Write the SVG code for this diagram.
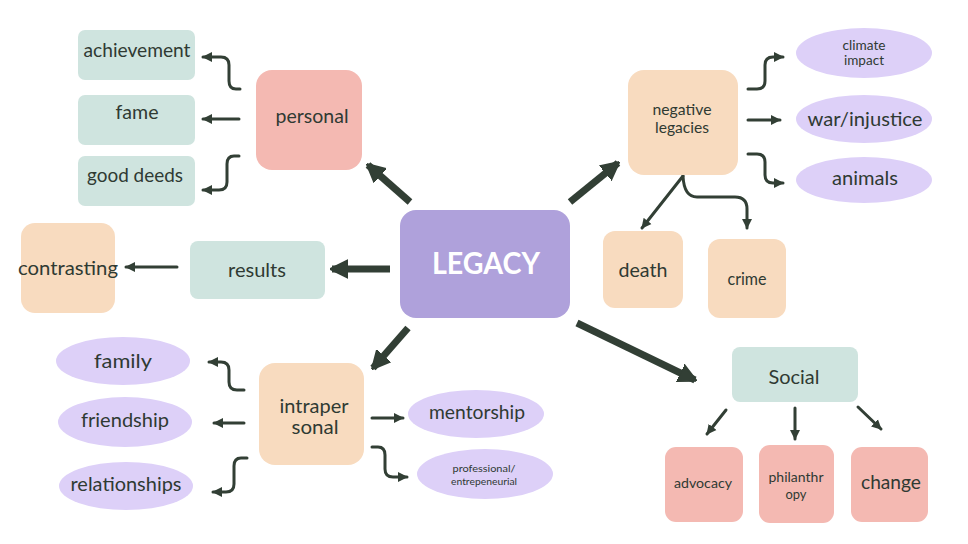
<svg xmlns="http://www.w3.org/2000/svg" width="968" height="544" viewBox="0 0 968 544">
<style>
.t{font-family:"Lato","Open Sans","Liberation Sans",sans-serif;fill:#2f3a33;text-anchor:middle}
.teal{fill:#cfe4df}.peach{fill:#f8dbbf}.pink{fill:#f4b9b2}.lav{fill:#ddd0f8}
.c{fill:none;stroke:#323f35;stroke-width:3;stroke-linecap:round;stroke-linejoin:round;marker-end:url(#s)}
.b{fill:none;stroke:#323f35;stroke-width:7;marker-end:url(#bg)}
</style>
<defs>
<marker id="s" viewBox="0 0 10 10" refX="9" refY="5" markerWidth="10" markerHeight="12" markerUnits="userSpaceOnUse" orient="auto"><path d="M0,0 L10,5 L0,10 z" fill="#323f35"/></marker>
<marker id="bg" viewBox="0 0 10 10" refX="9" refY="5" markerWidth="18" markerHeight="22" markerUnits="userSpaceOnUse" orient="auto"><path d="M0,0 L10,5 L0,10 z" fill="#323f35" stroke="#323f35" stroke-linejoin="round"/></marker>
</defs>
<rect width="968" height="544" fill="#fff"/>
<g id="connectors">
<line class="b" x1="410" y1="202" x2="368" y2="165"/>
<line class="b" x1="570" y1="202" x2="618" y2="163"/>
<line class="b" x1="390" y1="269" x2="332" y2="269"/>
<line class="b" x1="408" y1="328" x2="373" y2="368"/>
<line class="b" x1="577" y1="323" x2="695" y2="380"/>
<path class="c" d="M240,89 H236 Q229,89 229,81 V65 Q229,57 221,57 H203"/>
<path class="c" d="M239,119 H203"/>
<path class="c" d="M239,156 H234 Q227,156 227,164 V182 Q227,190 219,190 H203"/>
<line class="c" x1="177" y1="267" x2="126" y2="267"/>
<path class="c" d="M244,390 H237 Q229,390 229,382 V370 Q229,362 221,362 H209"/>
<path class="c" d="M244,423 H214"/>
<path class="c" d="M247,458 H241 Q234,458 234,466 V484 Q234,492 226,492 H213"/>
<path class="c" d="M372,418 H403"/>
<path class="c" d="M372,447 H378 Q385,447 385,455 V469 Q385,477 393,477 H407"/>
<path class="c" d="M748,89 H757 Q765,89 765,81 V65 Q765,57 773,57 H783"/>
<path class="c" d="M748,120 H780"/>
<path class="c" d="M748,154 H757 Q765,154 765,162 V175 Q765,183 773,183 H783"/>
<path class="c" d="M683,176 L642,228"/>
<path class="c" d="M683,176 Q684,197 697,197 H735 Q747,197 747,209 V228"/>
<path class="c" d="M726,410 L707,434"/>
<path class="c" d="M795,408 V439"/>
<path class="c" d="M858,407 L881,429"/>
</g>
<g id="legacy"><rect x="400" y="210" width="170" height="108" rx="16" fill="#afa1db"/><text class="t" x="486" y="274" font-size="31" font-weight="bold" textLength="108" lengthAdjust="spacingAndGlyphs" style="fill:#fff">LEGACY</text></g>
<g id="personal"><rect class="pink" x="256" y="70" width="106" height="100" rx="16"/><text class="t" x="312" y="123" font-size="20" textLength="73" lengthAdjust="spacingAndGlyphs">personal</text></g>
<g id="achievement"><rect class="teal" x="78" y="30" width="117" height="50" rx="7"/><text class="t" x="137" y="57" font-size="20" textLength="107" lengthAdjust="spacingAndGlyphs">achievement</text></g>
<g id="fame"><rect class="teal" x="78" y="95" width="117" height="50" rx="7"/><text class="t" x="137" y="119" font-size="20" textLength="43" lengthAdjust="spacingAndGlyphs">fame</text></g>
<g id="good-deeds"><rect class="teal" x="78" y="156" width="117" height="50" rx="7"/><text class="t" x="135" y="182" font-size="20" textLength="96" lengthAdjust="spacingAndGlyphs">good deeds</text></g>
<g id="results"><rect class="teal" x="190" y="241" width="135" height="58" rx="8"/><text class="t" x="257" y="277" font-size="19" textLength="58" lengthAdjust="spacingAndGlyphs">results</text></g>
<g id="contrasting"><rect class="peach" x="21" y="223" width="94" height="90" rx="14"/><text class="t" x="68" y="275" font-size="20" textLength="100" lengthAdjust="spacingAndGlyphs">contrasting</text></g>
<g id="intrapersonal"><rect class="peach" x="259" y="363" width="105" height="102" rx="16"/><text class="t" x="314" y="413" font-size="19" textLength="69" lengthAdjust="spacingAndGlyphs">intraper</text><text class="t" x="315" y="434" font-size="19" textLength="47" lengthAdjust="spacingAndGlyphs">sonal</text></g>
<g id="family"><ellipse class="lav" cx="123" cy="361" rx="67" ry="24"/><text class="t" x="123" y="368" font-size="19" textLength="58" lengthAdjust="spacingAndGlyphs">family</text></g>
<g id="friendship"><ellipse class="lav" cx="125" cy="422" rx="67" ry="25"/><text class="t" x="125" y="427" font-size="19" textLength="88" lengthAdjust="spacingAndGlyphs">friendship</text></g>
<g id="relationships"><ellipse class="lav" cx="126" cy="486" rx="67" ry="24"/><text class="t" x="126" y="491" font-size="19" textLength="111" lengthAdjust="spacingAndGlyphs">relationships</text></g>
<g id="mentorship"><ellipse class="lav" cx="476" cy="414" rx="68" ry="24"/><text class="t" x="477" y="419" font-size="19" textLength="96" lengthAdjust="spacingAndGlyphs">mentorship</text></g>
<g id="professional"><ellipse class="lav" cx="485" cy="474" rx="68" ry="25"/><text class="t" x="484" y="472" font-size="10" textLength="63" lengthAdjust="spacingAndGlyphs">professional/</text><text class="t" x="484" y="485" font-size="10" textLength="66" lengthAdjust="spacingAndGlyphs">entrepeneurial</text></g>
<g id="negative"><rect class="peach" x="628" y="70" width="110" height="105" rx="16"/><text class="t" x="682" y="115" font-size="15" textLength="59" lengthAdjust="spacingAndGlyphs">negative</text><text class="t" x="682" y="133" font-size="15" textLength="54" lengthAdjust="spacingAndGlyphs">legacies</text></g>
<g id="climate"><ellipse class="lav" cx="864" cy="53" rx="68" ry="25"/><text class="t" x="864" y="50" font-size="13" textLength="43" lengthAdjust="spacingAndGlyphs">climate</text><text class="t" x="864" y="65" font-size="13" textLength="40" lengthAdjust="spacingAndGlyphs">impact</text></g>
<g id="war"><ellipse class="lav" cx="864" cy="119" rx="68" ry="24"/><text class="t" x="865" y="126" font-size="19" textLength="115" lengthAdjust="spacingAndGlyphs">war/injustice</text></g>
<g id="animals"><ellipse class="lav" cx="864" cy="180" rx="68" ry="23"/><text class="t" x="865" y="185" font-size="19" textLength="66" lengthAdjust="spacingAndGlyphs">animals</text></g>
<g id="death"><rect class="peach" x="603" y="231" width="80" height="77" rx="12"/><text class="t" x="643" y="277" font-size="20" textLength="49" lengthAdjust="spacingAndGlyphs">death</text></g>
<g id="crime"><rect class="peach" x="708" y="239" width="78" height="79" rx="12"/><text class="t" x="747" y="285" font-size="17" textLength="39" lengthAdjust="spacingAndGlyphs">crime</text></g>
<g id="social"><rect class="teal" x="732" y="347" width="126" height="55" rx="8"/><text class="t" x="794" y="384" font-size="19" textLength="51" lengthAdjust="spacingAndGlyphs">Social</text></g>
<g id="advocacy"><rect class="pink" x="665" y="447" width="78" height="75" rx="11"/><text class="t" x="703" y="488" font-size="13" textLength="58" lengthAdjust="spacingAndGlyphs">advocacy</text></g>
<g id="philanthropy"><rect class="pink" x="759" y="445" width="75" height="78" rx="11"/><text class="t" x="796" y="482" font-size="13" textLength="55" lengthAdjust="spacingAndGlyphs">philanthr</text><text class="t" x="796" y="499" font-size="13" textLength="21" lengthAdjust="spacingAndGlyphs">opy</text></g>
<g id="change"><rect class="pink" x="851" y="447" width="77" height="75" rx="11"/><text class="t" x="891" y="489" font-size="20" textLength="60" lengthAdjust="spacingAndGlyphs">change</text></g>
</svg>
